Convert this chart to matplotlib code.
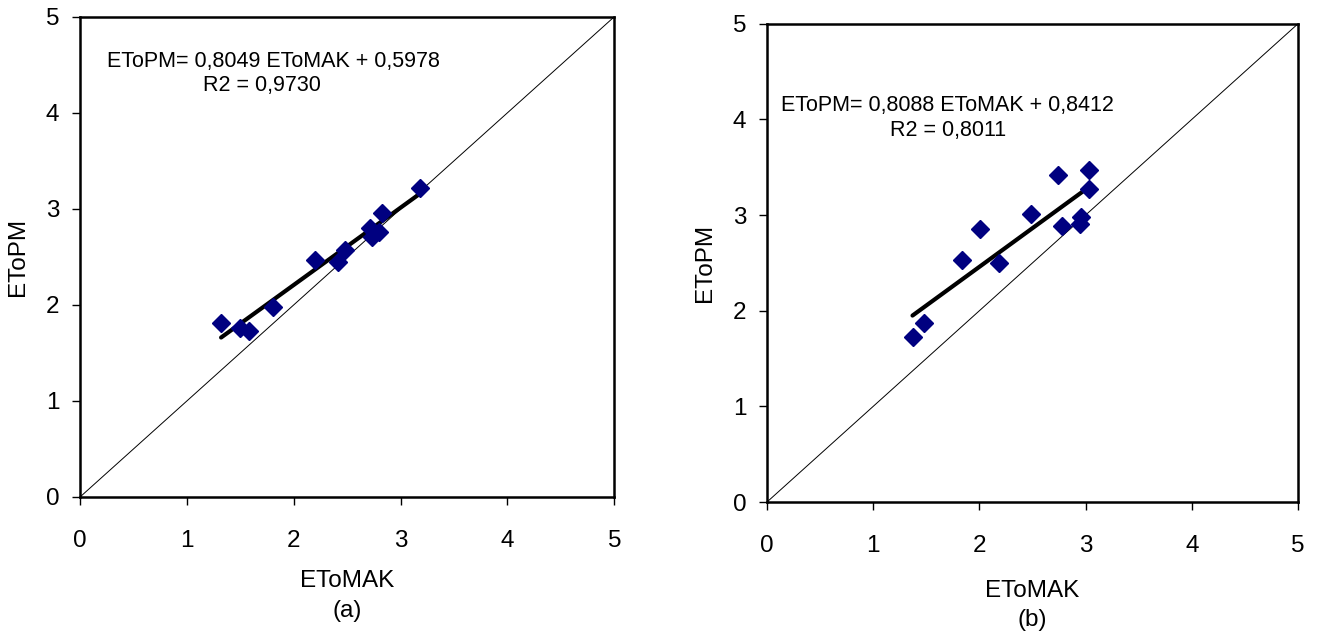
import matplotlib
matplotlib.use('Agg')
import matplotlib.pyplot as plt

plt.rcParams['font.family'] = ['Liberation Sans', 'DejaVu Sans']

# (a)
xa = [1.32, 1.50, 1.58, 1.81, 2.20, 2.41, 2.48, 2.71, 2.73, 2.80, 2.83, 3.18]
ya = [1.81, 1.76, 1.73, 1.98, 2.47, 2.45, 2.57, 2.80, 2.71, 2.76, 2.96, 3.22]
slope_a, icpt_a, r2_a = 0.8049, 0.5978, 0.9730

# (b)
xb = [1.37, 1.48, 1.84, 2.01, 2.18, 2.49, 2.74, 2.78, 2.95, 2.96, 3.03, 3.03]
yb = [1.72, 1.87, 2.53, 2.85, 2.50, 3.01, 3.42, 2.89, 2.91, 2.98, 3.47, 3.27]
slope_b, icpt_b, r2_b = 0.8088, 0.8412, 0.8011

ticks = [0, 1, 2, 3, 4, 5]

fig = plt.figure(figsize=(13.19, 6.31), dpi=100, facecolor='white')

panels = [
    ([0.0607, 0.2124, 0.405, 0.761], xa, ya, slope_a, icpt_a, r2_a, '(a)', (0.05, 0.906), (0.23, 0.856), 13),
    ([0.5815, 0.2044, 0.4026, 0.758], xb, yb, slope_b, icpt_b, r2_b, '(b)', (0.026, 0.83), (0.232, 0.777), 16),
]

for pos, x, y, m, b, r2, tag, p1, p2, lp in panels:
    ax = fig.add_axes(pos)
    ax.set_xlim(0, 5); ax.set_ylim(0, 5)
    ax.plot([0, 5], [0, 5], color='black', lw=0.7)
    xs = [min(x), max(x)]
    ax.plot(xs, [m * v + b for v in xs], color='black', lw=3, solid_capstyle='round')
    ax.plot(x, y, ls='none', marker='D', ms=9, color='#000080', mec='#000080', zorder=3)
    ax.set_xticks(ticks); ax.set_yticks(ticks)
    ax.tick_params(direction='out', length=6, width=1, labelsize=17.5, colors='black')
    ax.tick_params(axis='x', pad=18)
    ax.tick_params(axis='y', pad=9)
    for s in ax.spines.values():
        s.set_linewidth(1.8); s.set_color('black')
    ax.set_xlabel('EToMAK\n' + tag, fontsize=17.5, labelpad=lp, linespacing=1.43)
    ax.set_ylabel('EToPM', fontsize=17.5, labelpad=12)
    ax.text(p1[0], p1[1], f'EToPM= {m:.4f} EToMAK + {b:.4f}'.replace('.', ','),
            transform=ax.transAxes, fontsize=15.5, ha='left', va='center')
    ax.text(p2[0], p2[1], f'R2 = {r2:.4f}'.replace('.', ','),
            transform=ax.transAxes, fontsize=15.5, ha='left', va='center')

fig.savefig('out.png', dpi=100, facecolor='white')
